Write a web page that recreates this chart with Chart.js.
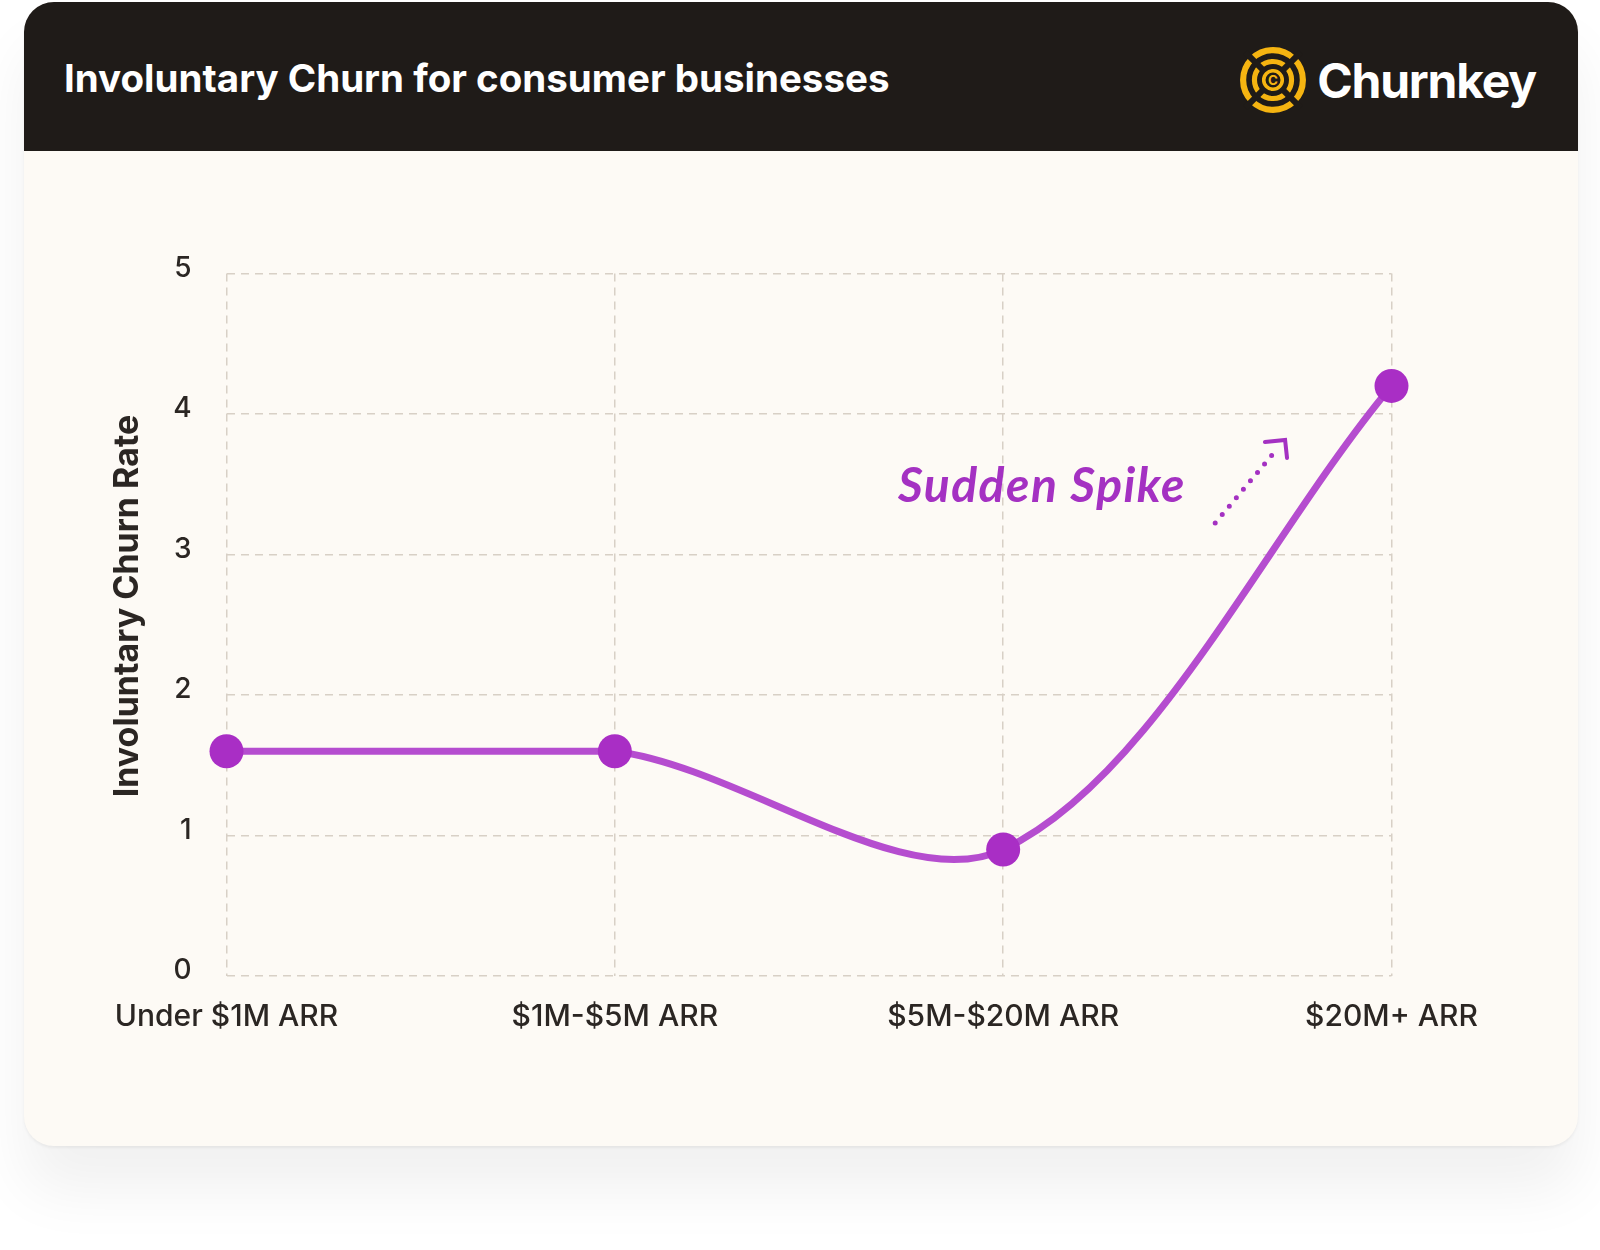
<!DOCTYPE html>
<html>
<head>
<meta charset="utf-8">
<script src="https://cdn.jsdelivr.net/npm/chart.js@4.4.1/dist/chart.umd.min.js"></script>
<style>
  html, body { margin: 0; padding: 0; background: #ffffff; width: 1600px; height: 1250px; overflow: hidden; }
  .card {
    position: absolute; left: 24px; top: 2px; width: 1554px; height: 1144px;
    background: #fdfaf5; border-radius: 30px; overflow: hidden;
    box-shadow: 0 45px 60px rgba(0, 0, 0, 0.06), 0 2px 3px rgba(0, 0, 0, 0.05);
  }
  .header { position: relative; height: 149px; background: #1f1b18; }
  .title {
    position: absolute; left: 40px; top: 0; height: 152px; display: flex; align-items: center;
    color: #ffffff; font-family: Inter, sans-serif; font-weight: 700; font-size: 38.5px; letter-spacing: 0px;
  }
  .logo { position: absolute; right: 42px; top: 0; height: 156px; display: flex; align-items: center; }
  .logo span { color: #ffffff; font-family: Inter, sans-serif; font-weight: 700; font-size: 48px; margin-left: 10px; letter-spacing: -1.2px; }
  .chart-wrap { position: absolute; left: 0; top: 149px; width: 1554px; height: 995px; }
</style>
</head>
<body>
<div class="card">
  <div class="header">
    <div class="title">Involuntary Churn for consumer businesses</div>
    <div class="logo">
      <svg width="68" height="68" viewBox="0 0 66 66">
        <circle cx="33" cy="33" r="29" fill="none" stroke="#f5b411" stroke-width="6"/>
        <circle cx="33" cy="33" r="18" fill="none" stroke="#f5b411" stroke-width="5"/>
        <line x1="6" y1="6" x2="60" y2="60" stroke="#1f1b18" stroke-width="6"/>
        <line x1="60" y1="6" x2="6" y2="60" stroke="#1f1b18" stroke-width="6"/>
        <circle cx="33" cy="33" r="9" fill="none" stroke="#f5b411" stroke-width="3.5"/>
        <text x="33" y="38" text-anchor="middle" font-family="Inter, sans-serif" font-weight="700" font-size="13" fill="#f5b411">C</text>
      </svg>
      <span>Churnkey</span>
    </div>
  </div>
  <div class="chart-wrap"><canvas id="churnChart"></canvas></div>
</div>

<script>
// Chart data
const categories = ['Under $1M ARR', '$1M-$5M ARR', '$5M-$20M ARR', '$20M+ ARR'];
const churnRate = [1.6, 1.6, 0.9, 4.2];
const yTicks = [0, 1, 2, 3, 4, 5];
const yAxisTitle = 'Involuntary Churn Rate';

const lineColor = '#b54dcf';
const pointColor = '#a92ec5';
const noteColor = '#a431c2';
const inkColor = '#2b2623';

// flat first stretch is drawn straight, the rest is curved
const flatPart = churnRate.map((v, i) => (i < 2 ? v : null));

// y axis title, sits a little above the middle of the axis
const axisTitle = {
  id: 'axisTitle',
  afterDraw(chart) {
    const { ctx } = chart;
    ctx.save();
    ctx.translate(103.5, 455);
    ctx.rotate(-Math.PI / 2);
    ctx.fillStyle = inkColor;
    ctx.font = '700 34px Inter, sans-serif';
    ctx.textAlign = 'center';
    ctx.textBaseline = 'middle';
    ctx.fillText(yAxisTitle, 0, 0);
    ctx.restore();
  }
};

// "Sudden Spike" note, placed in axis units
const spikeNote = {
  id: 'spikeNote',
  afterDatasetsDraw(chart) {
    const { ctx, scales: { x, y } } = chart;
    ctx.save();
    ctx.fillStyle = noteColor;
    ctx.strokeStyle = noteColor;
    ctx.font = 'italic 700 48px Lato, sans-serif';
    ctx.letterSpacing = '1.5px';
    ctx.textBaseline = 'alphabetic';
    ctx.fillText('Sudden Spike', x.getPixelForValue(1.729), y.getPixelForValue(3.374));

    // dotted arrow
    ctx.lineCap = 'round';
    ctx.lineWidth = 5;
    ctx.setLineDash([0, 11]);
    ctx.beginPath();
    ctx.moveTo(x.getPixelForValue(2.546), y.getPixelForValue(3.224));
    ctx.lineTo(x.getPixelForValue(2.708), y.getPixelForValue(3.76));
    ctx.stroke();
    ctx.setLineDash([]);
    ctx.lineWidth = 4;
    ctx.beginPath();
    ctx.moveTo(x.getPixelForValue(2.674), y.getPixelForValue(3.80));
    ctx.lineTo(x.getPixelForValue(2.726), y.getPixelForValue(3.815));
    ctx.lineTo(x.getPixelForValue(2.731), y.getPixelForValue(3.687));
    ctx.stroke();
    ctx.restore();
  }
};

document.fonts.load('700 30px Inter').then(function () {
  var ctx = document.getElementById('churnChart').getContext('2d');
  new Chart(ctx, {
    type: 'line',
    data: {
      labels: categories,
      datasets: [{
        data: churnRate,
        borderColor: lineColor,
        borderWidth: 7,
        tension: 0.32,
        pointRadius: 17,
        pointHoverRadius: 17,
        pointBackgroundColor: pointColor,
        pointBorderWidth: 0,
        clip: false,
        segment: {
          borderColor: c => (c.p0DataIndex === 0 ? 'transparent' : lineColor)
        },
        order: 1
      }, {
        data: flatPart,
        borderColor: lineColor,
        borderWidth: 7,
        tension: 0,
        pointRadius: 0,
        clip: false,
        order: 2
      }]
    },
    options: {
      responsive: true,
      maintainAspectRatio: false,
      animation: false,
      layout: { padding: { left: 0, right: 186.5, top: 122.5, bottom: 100 } },
      plugins: { legend: { display: false }, tooltip: { enabled: false } },
      scales: {
        x: {
          afterFit: s => { s.height = 70; },
          grid: { color: '#d8d0c6', lineWidth: 1.5, drawTicks: false },
          border: { display: false, dash: [8, 6] },
          ticks: { color: inkColor, padding: 23, font: { family: 'Inter', size: 30, weight: 500 }, maxRotation: 0 }
        },
        y: {
          min: 0,
          max: 5,
          afterFit: s => { s.width = 202.5; },
          afterBuildTicks: s => { s.ticks = yTicks.map(v => ({ value: v })); },
          grid: { color: '#d8d0c6', lineWidth: 1.5, drawTicks: false },
          border: { display: false, dash: [8, 6] },
          ticks: { color: inkColor, padding: 35, labelOffset: -5, font: { family: 'Inter', size: 28, weight: 500 } }
        }
      }
    },
    plugins: [axisTitle, spikeNote]
  });
});
</script>
</body>
</html>
